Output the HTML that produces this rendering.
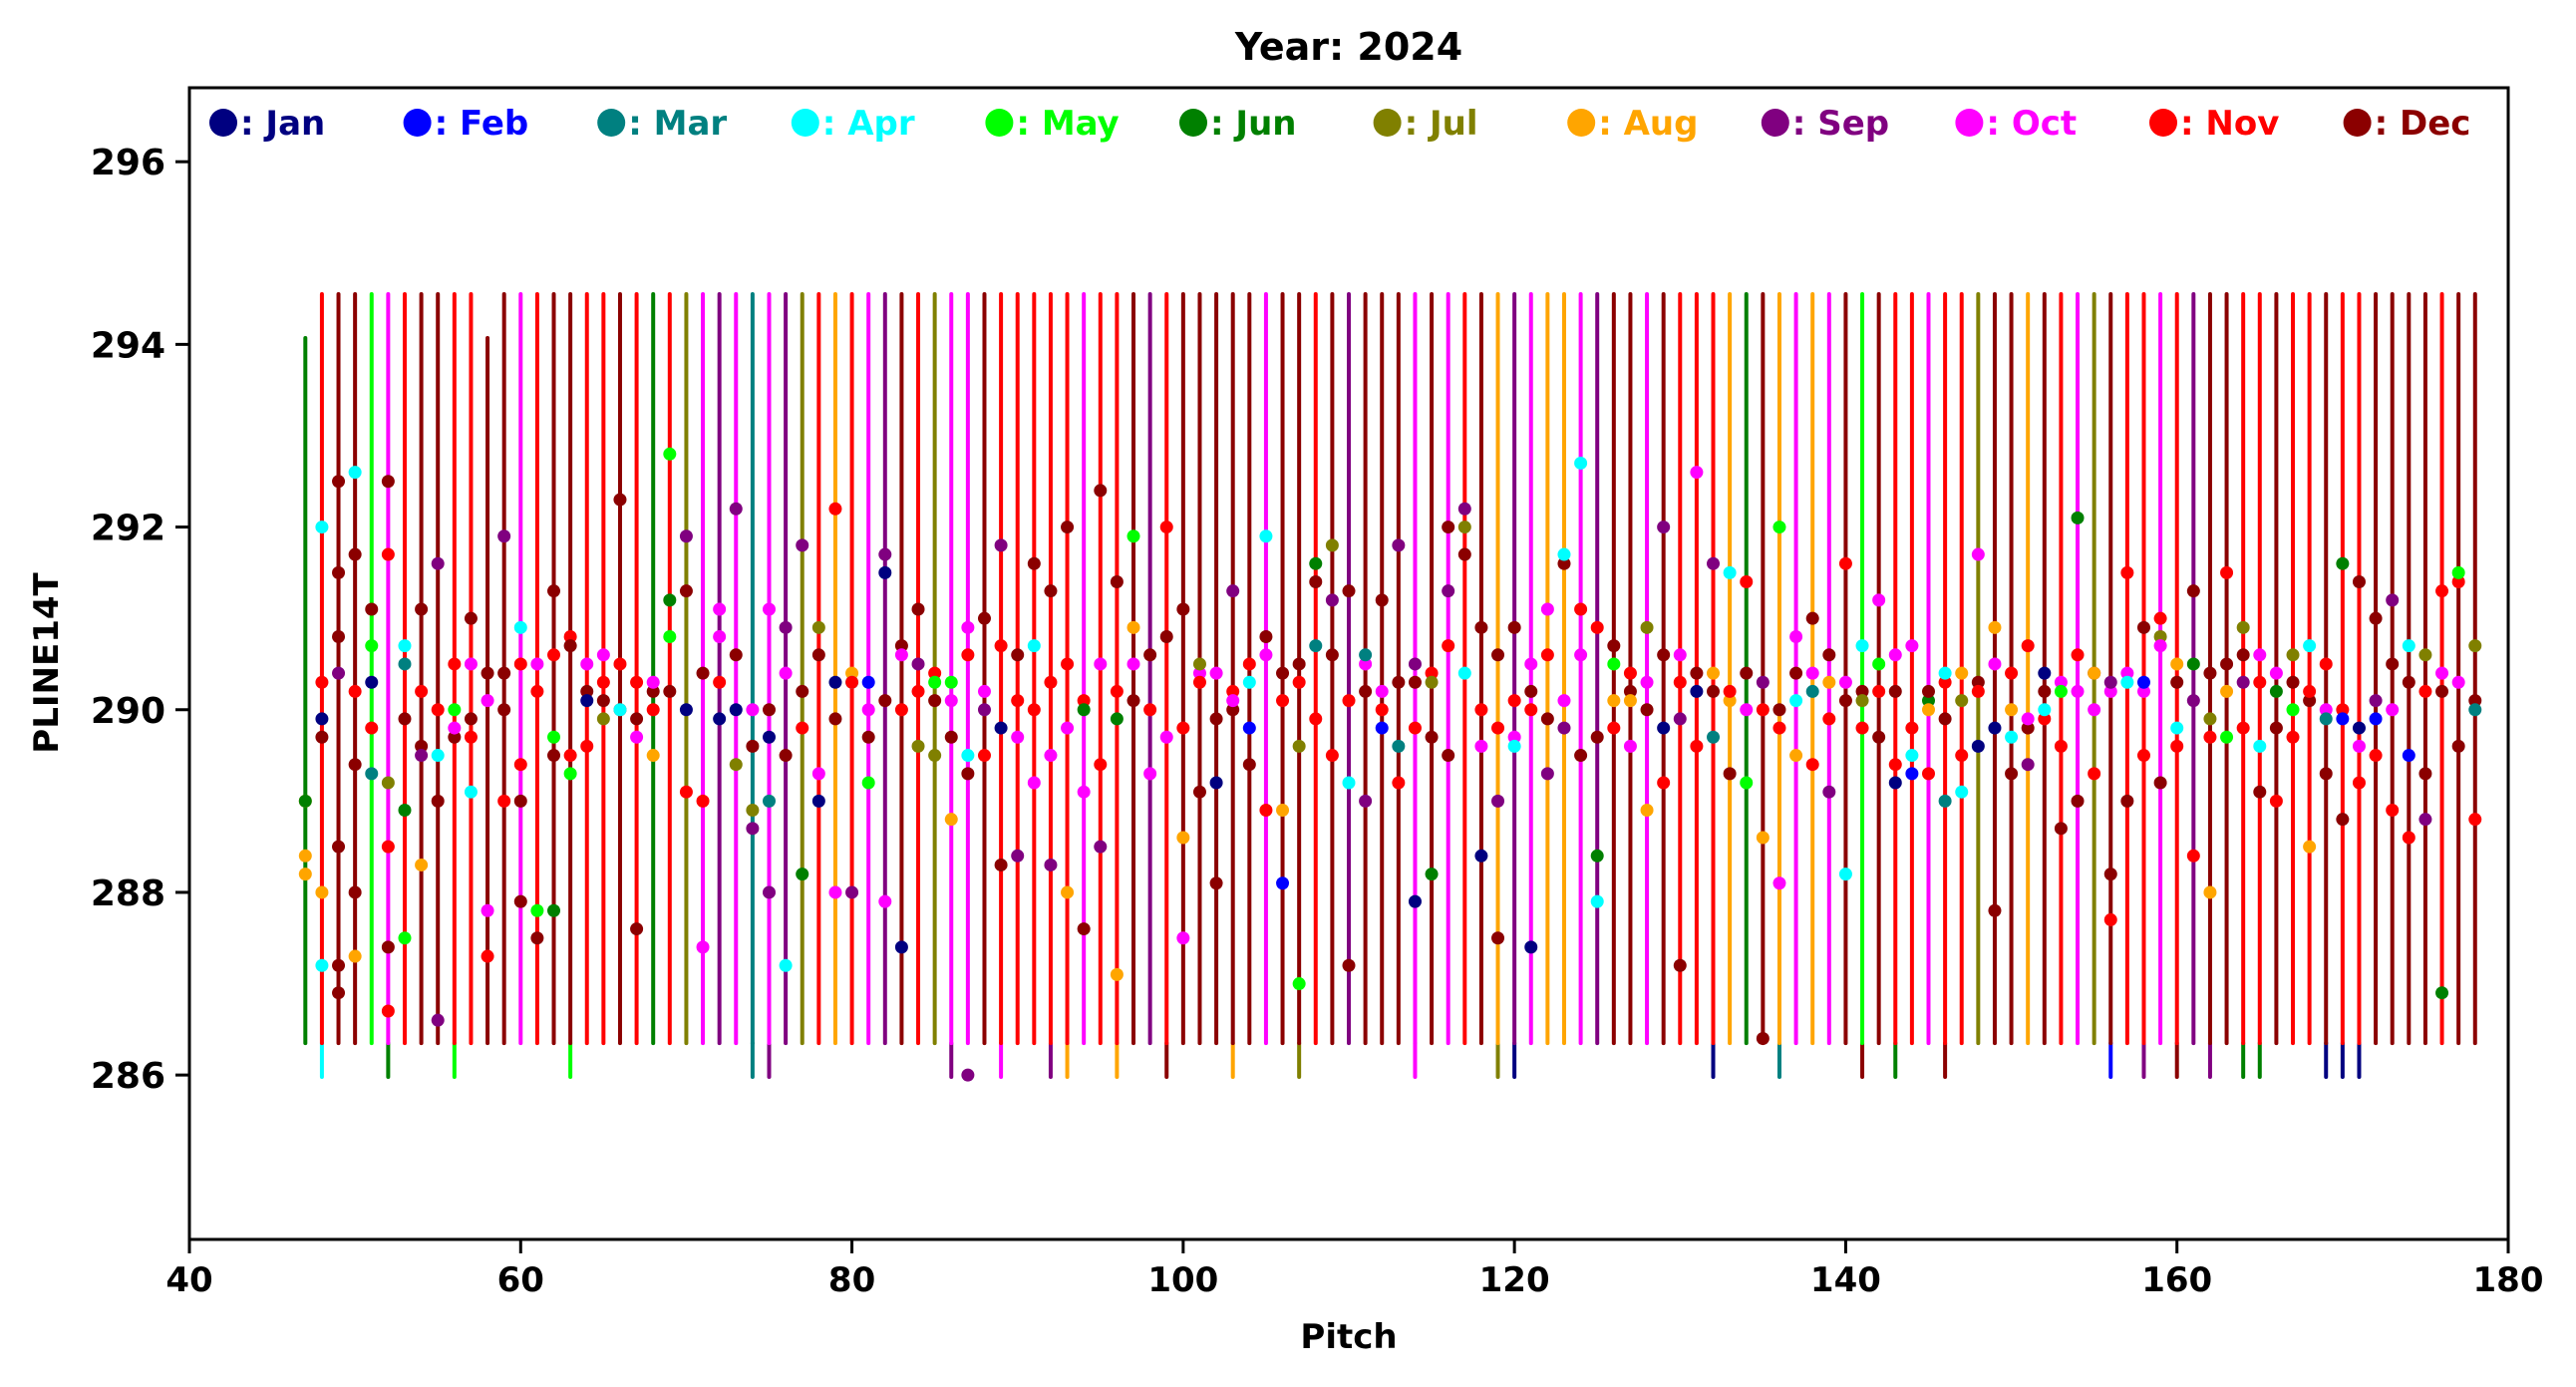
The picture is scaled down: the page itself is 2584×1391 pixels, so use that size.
<!DOCTYPE html>
<html><head><meta charset="utf-8"><style>
html,body{margin:0;padding:0;background:#fff;}
svg{display:block;font-family:"DejaVu Sans","Liberation Sans",sans-serif;font-weight:bold;}
</style></head><body>
<svg id="chart" width="2584" height="1391" viewBox="0 0 2584 1391" xmlns="http://www.w3.org/2000/svg">
<text x="1353" y="60" font-size="38" text-anchor="middle">Year: 2024</text>
<g id="plot"></g>
<g id="axes"></g>
<g id="legend"></g>
<text x="1353" y="1352" font-size="34" text-anchor="middle">Pitch</text>
<text transform="translate(58,665) rotate(-90)" font-size="34" text-anchor="middle">PLINE14T</text>
</svg>
<script>
const monthNames = ["Jan","Feb","Mar","Apr","May","Jun","Jul","Aug","Sep","Oct","Nov","Dec"];
const monthCodes = "abcdefghijkl";
const firstPitch = 47;
const topColorCodes = "fkllejkllkk"+"lljkllkklk"+"fkgjijcjig"+"khkjilkgjj"+"lkkkkkjkkl"+"ikllllljll"+"klillljljk"+"lhijhhjill"+"jlkkkhflhj"+"hjlelkkjkk"+"gllhlkjglk"+"kjkillkklk"+"klkkllllkll";
const lineLow = 286.35;
const lineHigh = 294.55;
const shortTopPitches = [47, 58];
const shortTopValue = 294.07;
const extendedBottom = [[48,"d"],[52,"f"],[56,"e"],[63,"e"],[74,"c"],[75,"i"],[86,"i"],[89,"j"],[92,"i"],[93,"h"],[96,"h"],[99,"l"],[103,"h"],[107,"g"],[114,"j"],[119,"g"],[120,"a"],[132,"a"],[136,"c"],[141,"l"],[143,"f"],[146,"l"],[156,"b"],[158,"i"],[160,"l"],[162,"i"],[164,"f"],[165,"f"],[169,"a"],[170,"a"],[171,"a"]];
const extendedBottomValue = 285.98;
const dotData = [
"h288.2 h289.0 f289.0 h288.4",
"d292.0 k290.3 a289.9 h288.0 l289.7 d287.2",
"l292.5 l291.5 l290.8 l288.5 l287.2 l286.9 i290.4",
"l291.7 d292.6 k290.2 l289.4 l288.0 h287.3",
"e290.7 a290.3 c289.3 k289.8 l291.1",
"k291.7 l292.5 l287.4 k286.7 k288.5 g289.2",
"d290.7 e287.5 l289.9 c290.5 f288.9",
"l291.1 k290.2 l289.6 h288.3 i289.5",
"i291.6 k290.0 l289.0 i286.6 d289.5",
"k290.5 l289.7 e290.0 j289.8",
"j290.5 l289.9 d289.1 k289.7 l291.0",
"k287.3 j290.1 l290.4 j287.8",
"i291.9 l290.0 k289.0 l290.4",
"k290.5 d290.9 l287.9 k289.4 l289.0",
"l287.5 j290.5 k290.2 e287.8",
"l291.3 k290.6 l289.5 f287.8 e289.7",
"k290.8 l290.7 e289.3 k289.5",
"l290.2 j290.5 a290.1 k289.6",
"l290.1 k290.3 g289.9 j290.6",
"k290.5 l292.3 l290.0 d290.0",
"l287.6 k290.3 l289.9 j289.7",
"k290.0 l290.2 h289.5 j290.3",
"e292.8 f291.2 l290.2 e290.8",
"i291.9 l291.3 k289.1 a290.0",
"k289.0 l290.4 j287.4",
"j291.1 a289.9 k290.3 j290.8",
"i292.2 g289.4 a290.0 l290.6",
"j290.0 g288.9 l289.6 i288.7",
"c289.0 j291.1 i288.0 l290.0 a289.7",
"j290.4 i290.9 d287.2 l289.5",
"i291.8 f288.2 l290.2 k289.8",
"g290.9 a289.0 l290.6 j289.3",
"k292.2 j288.0 l289.9 a290.3",
"h290.4 d290.3 i288.0 k290.3",
"b290.3 j290.0 l289.7 e289.2",
"i291.7 a291.5 j287.9 l290.1",
"l290.7 k290.0 a287.4 j290.6",
"l291.1 i290.5 g289.6 k290.2",
"k290.4 g289.5 l290.1 e290.3",
"j290.1 l289.7 h288.8 e290.3",
"j290.9 d289.5 l289.3 k290.6 i286.0",
"j290.2 i290.0 l291.0 k289.5",
"l288.3 k290.7 i291.8 a289.8",
"k290.1 j289.7 i288.4 l290.6",
"k290.0 l291.6 d290.7 j289.2",
"k290.3 l291.3 i288.3 j289.5",
"k290.5 l292.0 h288.0 j289.8",
"k290.1 f290.0 l287.6 j289.1",
"k289.4 l292.4 i288.5 j290.5",
"k290.2 l291.4 h287.1 f289.9",
"j290.5 l290.1 h290.9 e291.9",
"k290.0 l290.6 j289.3",
"k292.0 l290.8 j289.7",
"k289.8 l291.1 j287.5 h288.6",
"j290.4 l289.1 k290.3 g290.5",
"l288.1 j290.4 l289.9 a289.2",
"l290.0 k290.2 i291.3 j290.1",
"k290.5 l289.4 d290.3 b289.8",
"l290.8 k288.9 j290.6 d291.9",
"l290.4 k290.1 b288.1 h288.9",
"l290.5 k290.3 e287.0 g289.6",
"l291.4 k289.9 f291.6 c290.7",
"i291.2 l290.6 k289.5 g291.8",
"l291.3 k290.1 d289.2 l287.2",
"l290.2 j290.5 c290.6 i289.0",
"j290.2 l291.2 b289.8 k290.0",
"i291.8 l290.3 k289.2 c289.6",
"l290.3 k289.8 i290.5 a287.9",
"l289.7 k290.4 g290.3 f288.2",
"l292.0 i291.3 k290.7 l289.5",
"l291.7 i292.2 g292.0 d290.4",
"l290.9 k290.0 j289.6 a288.4",
"l290.6 i289.0 k289.8 l287.5",
"l290.9 k290.1 j289.7 d289.6",
"l290.2 k290.0 j290.5 a287.4",
"j291.1 l289.9 k290.6 i289.3",
"l291.6 i289.8 j290.1 d291.7",
"j290.6 l289.5 k291.1 d292.7",
"k290.9 l289.7 f288.4 d287.9",
"l290.7 k289.8 h290.1 e290.5",
"l290.2 k290.4 j289.6 h290.1",
"l290.0 h288.9 j290.3 g290.9",
"l290.6 i292.0 k289.2 a289.8",
"j290.6 l287.2 i289.9 k290.3",
"j292.6 k289.6 l290.4 a290.2",
"h290.4 l290.2 i291.6 c289.7",
"h290.1 k290.2 l289.3 d291.5",
"j290.0 l290.4 k291.4 e289.2",
"i290.3 l286.4 k290.0 h288.6",
"l290.0 k289.8 j288.1 e292.0",
"j290.8 l290.4 d290.1 h289.5",
"j290.4 l291.0 k289.4 c290.2",
"l290.6 k289.9 h290.3 i289.1",
"k291.6 l290.1 j290.3 d288.2",
"l290.2 k289.8 d290.7 g290.1",
"k290.2 l289.7 j291.2 e290.5",
"a289.2 k289.4 l290.2 j290.6",
"j290.7 b289.3 k289.8 d289.5",
"f290.1 l290.2 k289.3 h290.0",
"c289.0 k290.3 d290.4 l289.9",
"h290.4 d289.1 k289.5 g290.1",
"j291.7 l290.3 a289.6 k290.2",
"h290.9 l287.8 j290.5 a289.8",
"l289.3 k290.4 h290.0 d289.7",
"l289.8 k290.7 i289.4 j289.9",
"l290.2 k289.9 d290.0 a290.4",
"j290.3 l288.7 k289.6 e290.2",
"k290.6 l289.0 j290.2 f292.1",
"l290.4 k289.3 j290.0 h290.4",
"l288.2 k287.7 j290.2 i290.3",
"l289.0 k291.5 j290.4 d290.3",
"l290.9 k289.5 j290.2 b290.3",
"g290.8 k291.0 l289.2 j290.7",
"l290.3 k289.6 h290.5 d289.8",
"l291.3 k288.4 f290.5 i290.1",
"l290.4 k289.7 g289.9 h288.0",
"h290.2 l290.5 k291.5 e289.7",
"l290.6 k289.8 i290.3 g290.9",
"k290.3 l289.1 j290.6 d289.6",
"j290.4 l289.8 f290.2 k289.0",
"g290.6 l290.3 k289.7 e290.0",
"l290.1 k290.2 d290.7 h288.5",
"k290.5 l289.3 j290.0 c289.9",
"k290.0 l288.8 f291.6 b289.9",
"j289.6 l291.4 k289.2 a289.8",
"i290.1 l291.0 k289.5 b289.9",
"l290.5 k288.9 i291.2 j290.0",
"l290.3 k288.6 d290.7 b289.5",
"k290.2 l289.3 i288.8 g290.6",
"k291.3 l290.2 f286.9 j290.4",
"k291.4 l289.6 j290.3 e291.5",
"l290.1 k288.8 c290.0 g290.7"
];
const xTicks = [40,60,80,100,120,140,160,180];
const yTicks = [286,288,290,292,294,296];
const palette = {a:"#000080",b:"#0000ff",c:"#008080",d:"#00ffff",e:"#00ff00",f:"#008000",g:"#808000",h:"#ffa500",i:"#800080",j:"#ff00ff",k:"#ff0000",l:"#8b0000"};

const L=190,R=2516,T=88,B=1243;
const xMin=40,xMax=180,yMin=284.2,yMax=296.81;
function xs(v){return L+(v-xMin)/(xMax-xMin)*(R-L);}
function ys(v){return B-(v-yMin)/(yMax-yMin)*(B-T);}
const NS="http://www.w3.org/2000/svg";
function mk(tag,attrs,parent){const e=document.createElementNS(NS,tag);for(const k in attrs)e.setAttribute(k,attrs[k]);parent.appendChild(e);return e;}
const plot=document.getElementById('plot');
const axes=document.getElementById('axes');
const legend=document.getElementById('legend');

extendedBottom.forEach(function(d){
  const ln=mk('line',{x1:xs(d[0]),x2:xs(d[0]),y1:ys(extendedBottomValue),y2:ys(lineLow),stroke:palette[d[1]],'stroke-width':4,'stroke-linecap':'round'},plot);
  
  
});
for(let i=0;i<topColorCodes.length;i++){
  const p=firstPitch+i;
  const hi=shortTopPitches.indexOf(p)>=0?shortTopValue:lineHigh;
  const ln=mk('line',{x1:xs(p),x2:xs(p),y1:ys(lineLow),y2:ys(hi),stroke:palette[topColorCodes[i]],'stroke-width':4,'stroke-linecap':'round'},plot);
  
  
}
for(let i=0;i<dotData.length;i++){
  const p=firstPitch+i;
  dotData[i].split(' ').forEach(function(tok){
    const c=tok[0],v=parseFloat(tok.slice(1));
    const dot=mk('circle',{cx:xs(p),cy:ys(v),r:6.5,fill:palette[c]},plot);
    
    
  });
}
const fr=mk('rect',{x:L,y:T,width:R-L,height:B-T,fill:'none',stroke:'#000','stroke-width':3},axes);


xTicks.forEach(function(t){
  const tk=mk('line',{x1:xs(t),x2:xs(t),y1:B,y2:B+14,stroke:'#000','stroke-width':3},axes);
  
  
  const tx=mk('text',{x:xs(t),y:B+52,'font-size':34,'text-anchor':'middle'},axes);
  tx.textContent=t;
  
  
});
yTicks.forEach(function(t){
  const tk=mk('line',{x1:L-14,x2:L,y1:ys(t),y2:ys(t),stroke:'#000','stroke-width':3},axes);
  
  
  const tx=mk('text',{x:L-24,y:ys(t)+13,'font-size':36,'text-anchor':'end'},axes);
  tx.textContent=t;
  
  
});
monthNames.forEach(function(m,i){
  const x0=211+i*194.6;
  const g=mk('g',{},legend);
  
  
  const col=palette[monthCodes[i]];
  mk('circle',{cx:x0+13,cy:123,r:14,fill:col},g);
  const tx=mk('text',{x:x0+30,y:135,'font-size':34,fill:col},g);
  tx.textContent=': '+m;
});
</script>
</body></html>
